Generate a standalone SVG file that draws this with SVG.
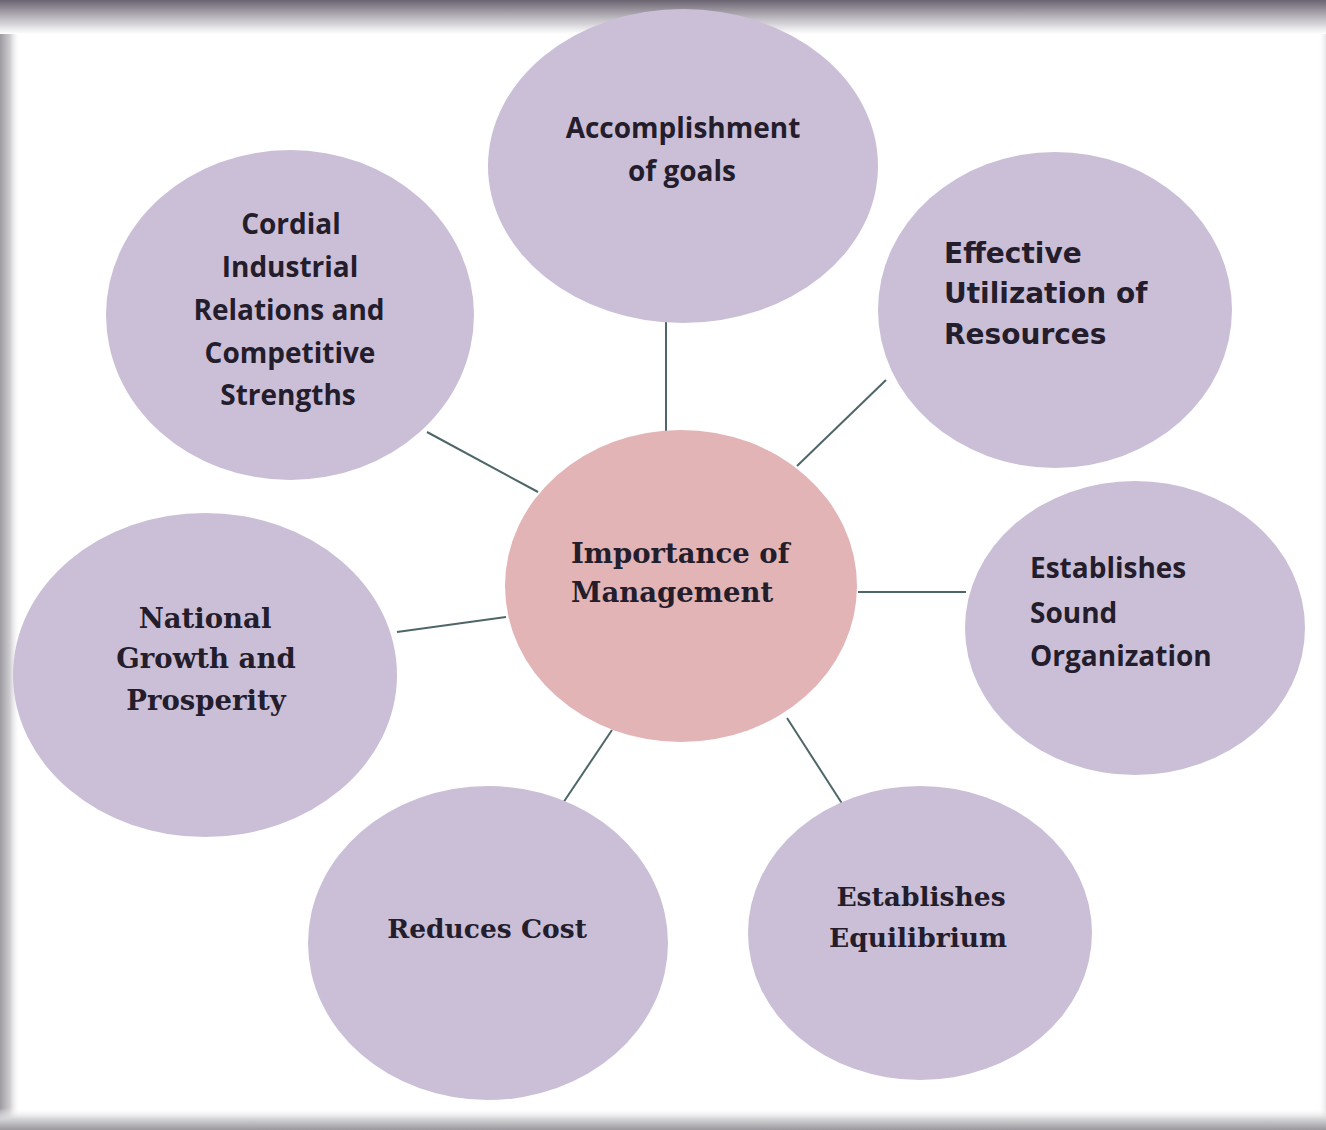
<svg xmlns="http://www.w3.org/2000/svg" width="1326" height="1130" viewBox="0 0 1326 1130">
  <defs>
    <linearGradient id="edgeTop" x1="0" y1="0" x2="0" y2="1">
      <stop offset="0" stop-color="#6a6370"/>
      <stop offset="0.5" stop-color="#b9b5bc"/>
      <stop offset="1" stop-color="#ffffff"/>
    </linearGradient>
    <linearGradient id="edgeLeft" x1="0" y1="0" x2="1" y2="0">
      <stop offset="0" stop-color="#9d9ba0"/>
      <stop offset="0.5" stop-color="#cfcdd1"/>
      <stop offset="1" stop-color="#ffffff" stop-opacity="0"/>
    </linearGradient>
    <linearGradient id="edgeBottom" x1="0" y1="0" x2="0" y2="1">
      <stop offset="0" stop-color="#ffffff" stop-opacity="0"/>
      <stop offset="0.5" stop-color="#d4d3d6"/>
      <stop offset="1" stop-color="#9a989d"/>
    </linearGradient>
    <linearGradient id="edgeRight" x1="0" y1="0" x2="1" y2="0">
      <stop offset="0" stop-color="#ffffff" stop-opacity="0"/>
      <stop offset="1" stop-color="#e6e5e8"/>
    </linearGradient>
  </defs>
  <style>
    .bubble { fill: #cbbfd8; }
    .hub { fill: #e2b4b6; }
    .link { stroke: #4f6668; stroke-width: 2; fill: none; }
    .lbl { fill: #241d2b; font-weight: bold; }
    .cal { font-family: "Open Sans", Lato, "Liberation Sans", sans-serif; font-size: 28px; }
    .cnd { font-family: "Open Sans", Lato, "Liberation Sans", sans-serif; font-size: 28px; }
    .cnx { font-family: "DejaVu Sans", "Liberation Sans", sans-serif; font-size: 28px; }
    .ser { font-family: "DejaVu Serif", "Liberation Serif", serif; font-size: 26.5px; }
    .ser-lg { font-size: 27.5px; }
    .mid { text-anchor: middle; }
  </style>

  <!-- page background and soft frame -->
  <rect x="0" y="0" width="1326" height="1130" fill="#ffffff"/>
  <rect x="0" y="0" width="20" height="1130" fill="url(#edgeLeft)"/>
  <rect x="1318" y="0" width="8" height="1130" fill="url(#edgeRight)"/>
  <rect x="0" y="1108" width="1326" height="22" fill="url(#edgeBottom)"/>
  <rect x="0" y="0" width="1326" height="34" fill="url(#edgeTop)"/>

  <!-- connectors from the hub to each bubble -->
  <g id="connectors">
    <line class="link" x1="666" y1="322" x2="666" y2="431"/>
    <line class="link" x1="886" y1="380" x2="797" y2="466"/>
    <line class="link" x1="858" y1="592" x2="966" y2="592"/>
    <line class="link" x1="787" y1="718" x2="843" y2="805"/>
    <line class="link" x1="612" y1="730" x2="563" y2="803"/>
    <line class="link" x1="397" y1="632" x2="506" y2="617"/>
    <line class="link" x1="427" y1="432" x2="538" y2="492"/>
  </g>

  <g id="node-goals">
    <ellipse class="bubble" cx="683" cy="166" rx="195" ry="157"/>
    <text class="lbl cal mid" x="683" y="138">Accomplishment</text>
    <text class="lbl cal mid" x="682" y="181">of goals</text>
  </g>

  <g id="node-resources">
    <ellipse class="bubble" cx="1055" cy="310" rx="177" ry="158"/>
    <text class="lbl cnx" x="944" y="263">Effective</text>
    <text class="lbl cnx" x="944" y="303">Utilization of</text>
    <text class="lbl cnx" x="944" y="344">Resources</text>
  </g>

  <g id="node-organization">
    <ellipse class="bubble" cx="1135" cy="628" rx="170" ry="147"/>
    <text class="lbl cnd" x="1030" y="578">Establishes</text>
    <text class="lbl cnd" x="1030" y="623">Sound</text>
    <text class="lbl cnd" x="1030" y="666">Organization</text>
  </g>

  <g id="node-equilibrium">
    <ellipse class="bubble" cx="920" cy="933" rx="172" ry="147"/>
    <text class="lbl ser mid" x="921" y="906">Establishes</text>
    <text class="lbl ser mid" x="918" y="947">Equilibrium</text>
  </g>

  <g id="node-cost">
    <ellipse class="bubble" cx="488" cy="943" rx="180" ry="157"/>
    <text class="lbl ser mid" x="487" y="938">Reduces Cost</text>
  </g>

  <g id="node-national">
    <ellipse class="bubble" cx="205" cy="675" rx="192" ry="162"/>
    <text class="lbl ser ser-lg mid" x="205" y="628">National</text>
    <text class="lbl ser ser-lg mid" x="206" y="668">Growth and</text>
    <text class="lbl ser ser-lg mid" x="206" y="710">Prosperity</text>
  </g>

  <g id="node-relations">
    <ellipse class="bubble" cx="290" cy="315" rx="184" ry="165"/>
    <text class="lbl cnd mid" x="291" y="234">Cordial</text>
    <text class="lbl cnd mid" x="290" y="277">Industrial</text>
    <text class="lbl cnd mid" x="289" y="320">Relations and</text>
    <text class="lbl cnd mid" x="290" y="363">Competitive</text>
    <text class="lbl cnd mid" x="288" y="405">Strengths</text>
  </g>

  <g id="node-hub">
    <ellipse class="hub" cx="681" cy="586" rx="176" ry="156"/>
    <text class="lbl ser ser-lg" x="571" y="563">Importance of</text>
    <text class="lbl ser ser-lg" x="571" y="602">Management</text>
  </g>
</svg>
